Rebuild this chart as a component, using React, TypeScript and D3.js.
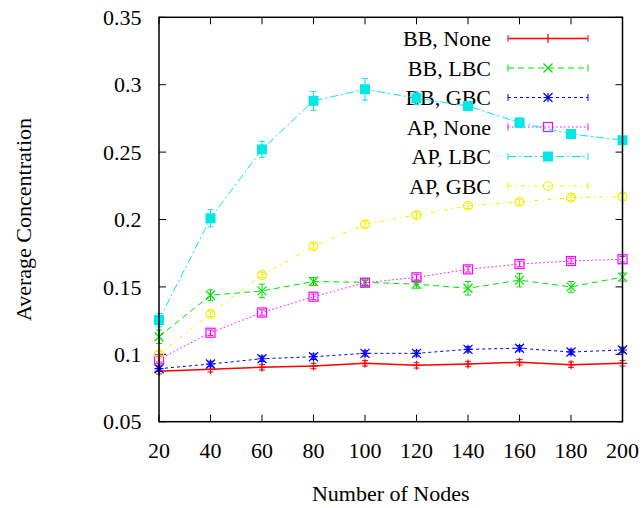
import React from "react";
import * as d3 from "d3";

const nodes = [20, 40, 60, 80, 100, 120, 140, 160, 180, 200];
const seriesNames = ["BB, None", "BB, LBC", "BB, GBC", "AP, None", "AP, LBC", "AP, GBC"];
const bbNone = [0.0874, 0.0889, 0.0904, 0.0913, 0.0933, 0.0918, 0.0928, 0.0941, 0.0923, 0.0933];
const bbLbc = [0.113, 0.1438, 0.147, 0.154, 0.1534, 0.152, 0.149, 0.155, 0.150, 0.1573];
const bbGbc = [0.0893, 0.0928, 0.0967, 0.0982, 0.1007, 0.1007, 0.1037, 0.1045, 0.1017, 0.1032];
const apNone = [0.0963, 0.116, 0.131, 0.1427, 0.1531, 0.1571, 0.163, 0.167, 0.1692, 0.1705];
const apLbc = [0.1254, 0.2009, 0.252, 0.288, 0.2966, 0.290, 0.2842, 0.2718, 0.2634, 0.2588];
const apGbc = [0.100, 0.130, 0.1588, 0.180, 0.1964, 0.2033, 0.2102, 0.213, 0.2162, 0.217];
const errBbNone = [0.002, 0.002, 0.002, 0.002, 0.002, 0.002, 0.002, 0.002, 0.002, 0.002];
const errBbLbc = [0.005, 0.004, 0.005, 0.003, 0.003, 0.003, 0.005, 0.005, 0.004, 0.003];
const errBbGbc = [0.002, 0.002, 0.002, 0.002, 0.002, 0.002, 0.002, 0.002, 0.002, 0.002];
const errApNone = [0.002, 0.002, 0.002, 0.002, 0.002, 0.002, 0.002, 0.002, 0.002, 0.002];
const errApLbc = [0.005, 0.0064, 0.0058, 0.007, 0.008, 0.0047, 0.002, 0.0035, 0.001, 0.001];
const errApGbc = [0.002, 0.002, 0.002, 0.002, 0.002, 0.002, 0.002, 0.002, 0.002, 0.002];
const xTicks = [20, 40, 60, 80, 100, 120, 140, 160, 180, 200];
const yTicks = [0.05, 0.1, 0.15, 0.2, 0.25, 0.3, 0.35];
const yTickLabels = ["0.05", "0.1", "0.15", "0.2", "0.25", "0.3", "0.35"];

const values = [bbNone, bbLbc, bbGbc, apNone, apLbc, apGbc];
const errors = [errBbNone, errBbLbc, errBbGbc, errApNone, errApLbc, errApGbc];
const colors = ["#ff0000", "#00e000", "#0000ff", "#ff00ff", "#00e8e8", "#f0f000"];
const dashes = ["none", "6,4", "3,3", "1.5,2.5", "8,3,2,3", "4,4,1,4"];
const markers = ["plus", "cross", "star", "square", "fsquare", "circle"];

const W = 643, H = 508;
const L = 159, R = 622.5, T = 17.3, B = 421.7;
const FONT = "Liberation Serif";

function Marker({ type, x, y, color }: { type: string; x: number; y: number; color: string }) {
  const s = 4.5;
  switch (type) {
    case "plus":
      return <path d={`M${x - s},${y}H${x + s}M${x},${y - s}V${y + s}`} stroke={color} strokeWidth={1.2} />;
    case "cross":
      return <path d={`M${x - s},${y - s}L${x + s},${y + s}M${x - s},${y + s}L${x + s},${y - s}`} stroke={color} strokeWidth={1.2} />;
    case "star":
      return <path d={`M${x - s},${y}H${x + s}M${x},${y - s}V${y + s}M${x - s},${y - s}L${x + s},${y + s}M${x - s},${y + s}L${x + s},${y - s}`} stroke={color} strokeWidth={1.2} />;
    case "square":
      return <rect x={x - s} y={y - s} width={2 * s} height={2 * s} fill="none" stroke={color} strokeWidth={1.2} />;
    case "fsquare":
      return <rect x={x - 5} y={y - 5} width={10} height={10} fill={color} stroke="none" />;
    default:
      return <circle cx={x} cy={y} r={s} fill="none" stroke={color} strokeWidth={1.2} />;
  }
}

export default function App() {
  const x = d3.scaleLinear().domain([20, 200]).range([L, R]);
  const y = d3.scaleLinear().domain([0.05, 0.35]).range([B, T]);
  const line = d3.line<number>().x((_, i) => x(nodes[i])).y((d) => y(d));
  const tick = 7;
  const legendX0 = 508, legendX1 = 588, legendTextX = 491;
  const legendY = [38.5, 68, 97.5, 127, 156.5, 186];

  return (
    <svg width={W} height={H} style={{ position: "absolute", left: 0, top: 0, background: "#fff" }}>
      {yTicks.map((t, i) => (
        <g key={"y" + i}>
          <path d={`M${L},${y(t)}h${tick}M${R},${y(t)}h${-tick}`} stroke="#000" strokeWidth={1} />
          <text x={141.5} y={y(t)} dy="0.35em" textAnchor="end" fontFamily={FONT} fontSize={22}>{yTickLabels[i]}</text>
        </g>
      ))}
      {xTicks.map((t, i) => (
        <g key={"x" + i}>
          <path d={`M${x(t)},${B}v${-tick}M${x(t)},${T}v${tick}`} stroke="#000" strokeWidth={1} />
          <text x={x(t)} y={450} dy="0.35em" textAnchor="middle" fontFamily={FONT} fontSize={22}>{t}</text>
        </g>
      ))}
      <text x={(L + R) / 2} y={493} dy="0.35em" textAnchor="middle" fontFamily={FONT} fontSize={22}>Number of Nodes</text>
      <text transform={`translate(23,${(T + B) / 2}) rotate(-90)`} dy="0.35em" textAnchor="middle" fontFamily={FONT} fontSize={22}>Average Concentration</text>

      {seriesNames.map((name, k) => (
        <g key={"lg" + k}>
          <text x={legendTextX} y={legendY[k]} dy="0.35em" textAnchor="end" fontFamily={FONT} fontSize={22}>{name}</text>
          <path d={`M${legendX0},${legendY[k]}H${legendX1}`} stroke={colors[k]} strokeWidth={k === 0 ? 1.5 : 1} strokeDasharray={dashes[k]} />
          <path d={`M${legendX0},${legendY[k] - 3.5}v7M${legendX1},${legendY[k] - 3.5}v7`} stroke={colors[k]} strokeWidth={1} />
          <Marker type={markers[k]} x={(legendX0 + legendX1) / 2} y={legendY[k]} color={colors[k]} />
        </g>
      ))}

      {values.map((vals, k) => (
        <g key={"s" + k}>
          <path d={line(vals) || ""} fill="none" stroke={colors[k]} strokeWidth={k === 0 ? 1.5 : 1} strokeDasharray={dashes[k]} />
          {vals.map((v, i) => {
            const e = errors[k][i];
            const cx = x(nodes[i]);
            return (
              <g key={i}>
                <path d={`M${cx},${y(v - e)}V${y(v + e)}M${cx - 3},${y(v - e)}h6M${cx - 3},${y(v + e)}h6`} stroke={colors[k]} strokeWidth={1} />
                <Marker type={markers[k]} x={cx} y={y(v)} color={colors[k]} />
              </g>
            );
          })}
        </g>
      ))}

      <rect x={L} y={T} width={R - L} height={B - T} fill="none" stroke="#000" strokeWidth={1.5} />
    </svg>
  );
}
